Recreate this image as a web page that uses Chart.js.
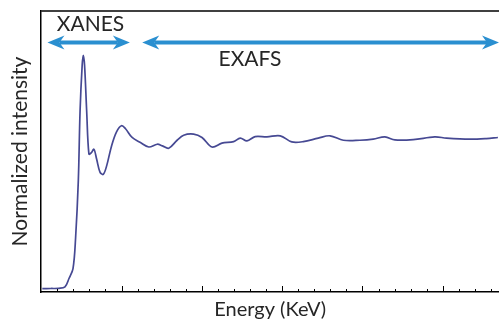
<!DOCTYPE html>
<html>
<head>
<meta charset="utf-8">
<script src="https://cdn.jsdelivr.net/npm/chart.js"></script>
<style>
  html, body { margin: 0; padding: 0; background: #fff; }
  #wrap { width: 499px; height: 324px; }
</style>
</head>
<body>
<div id="wrap"><canvas id="xasChart" width="499" height="324"></canvas></div>
<script>
// XAS spectrum (energy in tick units, intensity normalized to edge step)
const energy = [
  0.07, 0.59, 1.09, 1.48, 1.73, 1.98, 2.14, 2.31, 2.42, 2.55, 2.62, 2.70, 2.83, 2.97,
  3.11, 3.28, 3.45, 3.66, 3.86, 4.07, 4.38, 4.69, 5.00, 5.25, 5.66, 6.18, 6.70, 7.22,
  7.55, 7.94, 8.46, 8.87, 9.49, 10.01, 10.63, 11.25, 11.98, 12.39, 12.81, 13.32, 14.05,
  14.88, 15.60, 16.32, 17.25, 17.98, 18.81, 19.84, 20.67, 21.40, 22.02, 23.16, 24.50,
  25.23, 26.68, 27.71, 28.43
];
const intensity = [
  0.022, 0.023, 0.024, 0.033, 0.088, 0.153, 0.351, 0.724, 1.184, 1.480, 1.546, 1.480, 1.184, 0.901,
  0.908, 0.932, 0.868, 0.783, 0.768, 0.822, 0.954, 1.046, 1.086, 1.066, 1.009, 0.976, 0.947, 0.965,
  0.954, 0.939, 0.991, 1.024, 1.031, 1.009, 0.947, 0.972, 0.982, 1.005, 0.987, 1.015, 1.013,
  1.020, 0.980, 0.982, 1.005, 1.020, 0.991, 0.991, 0.998, 1.013, 0.993, 0.995, 1.013,
  1.005, 0.998, 1.002, 1.009
];

// region markers: [label, start, end]
const regions = [
  ['XANES', 0.39, 5.52],
  ['EXAFS', 6.29, 28.5]
];

const textFont = "Lato, 'Open Sans', sans-serif";

const framePlugin = {
  id: 'frame',
  afterDraw(chart) {
    const { ctx, chartArea } = chart;
    const x = chart.scales.x;
    const y = chart.scales.y;
    ctx.save();

    // top frame line
    ctx.strokeStyle = '#000';
    ctx.lineWidth = 1.5;
    ctx.beginPath();
    ctx.moveTo(chartArea.left, chartArea.top);
    ctx.lineTo(chartArea.right, chartArea.top);
    ctx.stroke();

    // inward tick marks on the energy axis
    ctx.lineWidth = 1;
    for (let v = 1; v <= 28; v++) {
      const px = Math.round(x.getPixelForValue(v)) + 0.5;
      const len = v % 5 === 0 ? 6 : 3;
      ctx.beginPath();
      ctx.moveTo(px, chartArea.bottom);
      ctx.lineTo(px, chartArea.bottom - len);
      ctx.stroke();
    }

    // region arrows
    const arrowY = y.getPixelForValue(1.63);
    ctx.strokeStyle = '#2a8fd0';
    ctx.fillStyle = '#2a8fd0';
    ctx.lineWidth = 4;
    regions.forEach(([label, a, b]) => {
      const x0 = x.getPixelForValue(a);
      const x1 = Math.min(x.getPixelForValue(b), chart.width);
      const head = 17, half = 7, notch = 5;
      ctx.beginPath();
      ctx.moveTo(x0 + head - notch, arrowY);
      ctx.lineTo(x1 - head + notch, arrowY);
      ctx.stroke();
      ctx.beginPath();
      ctx.moveTo(x0, arrowY);
      ctx.lineTo(x0 + head, arrowY - half);
      ctx.lineTo(x0 + head - notch, arrowY);
      ctx.lineTo(x0 + head, arrowY + half);
      ctx.closePath();
      ctx.fill();
      ctx.beginPath();
      ctx.moveTo(x1, arrowY);
      ctx.lineTo(x1 - head, arrowY - half);
      ctx.lineTo(x1 - head + notch, arrowY);
      ctx.lineTo(x1 - head, arrowY + half);
      ctx.closePath();
      ctx.fill();
    });

    // region labels
    ctx.fillStyle = '#262626';
    ctx.textAlign = 'center';
    ctx.textBaseline = 'middle';
    ctx.font = '21px ' + textFont;
    ctx.fillText(regions[0][0], x.getPixelForValue(3.07), y.getPixelForValue(1.75));
    ctx.fillText(regions[1][0], x.getPixelForValue(13.0), y.getPixelForValue(1.52));
    ctx.restore();
  }
};

new Chart(document.getElementById('xasChart'), {
  type: 'line',
  data: {
    datasets: [{
      label: 'Normalized intensity',
      data: energy.map((e, i) => ({ x: e, y: intensity[i] })),
      borderColor: '#464993',
      borderWidth: 1.7,
      pointRadius: 0,
      tension: 0.35,
      fill: false
    }]
  },
  options: {
    responsive: false,
    animation: false,
    layout: { padding: { top: 11, right: 0, left: 6, bottom: 0 } },
    plugins: {
      legend: { display: false },
      tooltip: { enabled: false }
    },
    scales: {
      x: {
        type: 'linear',
        min: 0,
        max: 28.5,
        grid: { display: false, drawTicks: false },
        border: { display: true, color: '#000', width: 1.5 },
        ticks: { display: false },
        title: {
          display: true,
          text: 'Energy (KeV)',
          color: '#262626',
          font: { family: textFont, size: 20 },
          padding: { top: 6, bottom: 2 }
        }
      },
      y: {
        min: 0,
        max: 1.835,
        grid: { display: false, drawTicks: false },
        border: { display: true, color: '#000', width: 1.5 },
        ticks: { display: false },
        title: {
          display: true,
          text: 'Normalized intensity',
          color: '#262626',
          font: { family: textFont, size: 21 },
          padding: { top: 2, bottom: 8 }
        }
      }
    }
  },
  plugins: [framePlugin]
});
</script>
</body>
</html>
